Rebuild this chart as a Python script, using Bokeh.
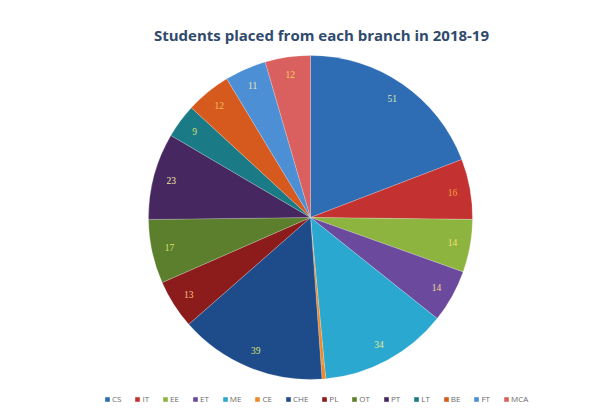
import math
from bokeh.plotting import figure
from bokeh.models import ColumnDataSource, Legend, LegendItem
from bokeh.core.properties import value
from bokeh.embed import file_html
from bokeh.resources import INLINE

branches = ["CS", "IT", "EE", "ET", "ME", "CE", "CHE", "PL", "OT", "PT", "LT", "BE", "FT", "MCA"]
placed = [51, 16, 14, 14, 34, 1, 39, 13, 17, 23, 9, 12, 11, 12]
colors = ["#2E6DB4", "#C33230", "#8DB43E", "#6B4A9E", "#2AA8CF", "#EE8A2A", "#1E4C8A",
          "#8C1C1C", "#5B7F2C", "#46275F", "#1A7A86", "#D65A1E", "#4C8FD4", "#D9605E"]
label_colors = ["#D8E8B0", "#F0A040", "#F2E070", "#F2D890", "#E8E890", "#F0B060", "#D8E070",
                "#F8C080", "#D8E070", "#F2E8A0", "#D8E070", "#F0C060", "#E8E8C0", "#F2D060"]
title_text = "Students placed from each branch in 2018-19"

W, H = 590, 404
cx, cy, R = 310, H - 217, 162
total = sum(placed)
starts, ends, lx, ly = [], [], [], []
cum = 0
for v in placed:
    a0 = math.pi / 2 - 2 * math.pi * cum / total
    cum += v
    a1 = math.pi / 2 - 2 * math.pi * cum / total
    starts.append(a0)
    ends.append(a1)
    mid = (a0 + a1) / 2
    lx.append(cx + 0.89 * R * math.cos(mid))
    ly.append(cy + 0.89 * R * math.sin(mid))

src = ColumnDataSource(dict(branch=branches, val=placed, color=colors, start=starts, end=ends,
                            lx=lx, ly=ly, txt=[str(v) for v in placed], lc=label_colors))

p = figure(width=W, height=H, x_range=(0, W), y_range=(0, H), output_backend="svg",
           toolbar_location=None, min_border=0)
p.axis.visible = False
p.grid.visible = False
p.outline_line_color = None
p.background_fill_color = "white"
p.border_fill_color = "white"

r = p.wedge(x=cx, y=cy, radius=R, start_angle="start", end_angle="end", direction="clock",
            fill_color="color", line_color="white", line_width=0.5, line_alpha=0.4, source=src)

p.text(x="lx", y="ly", text="txt", source=src, text_color="lc", text_font=value("Liberation Serif"),
       text_font_size="9.5px", text_align="center", text_baseline="middle")

p.text(x=[321], y=[H - 34], text=[title_text], text_font=value("Open Sans"), text_font_style="bold",
       text_font_size="15px", text_color="#2F4A6C", text_align="center", text_baseline="middle")

items = [LegendItem(label=b, renderers=[r], index=i) for i, b in enumerate(branches)]
legend = Legend(items=items, orientation="horizontal", location=(104, 0),
                label_text_font_size="8px", label_text_color="#6A6A6A", label_text_font="Open Sans",
                glyph_width=6, glyph_height=6, label_standoff=2, spacing=13, padding=0,
                border_line_alpha=0, background_fill_alpha=0, margin=0,
                label_height=8, label_width=0)
p.add_layout(legend, "center")

open("out.html", "w").write(file_html(p, INLINE))
